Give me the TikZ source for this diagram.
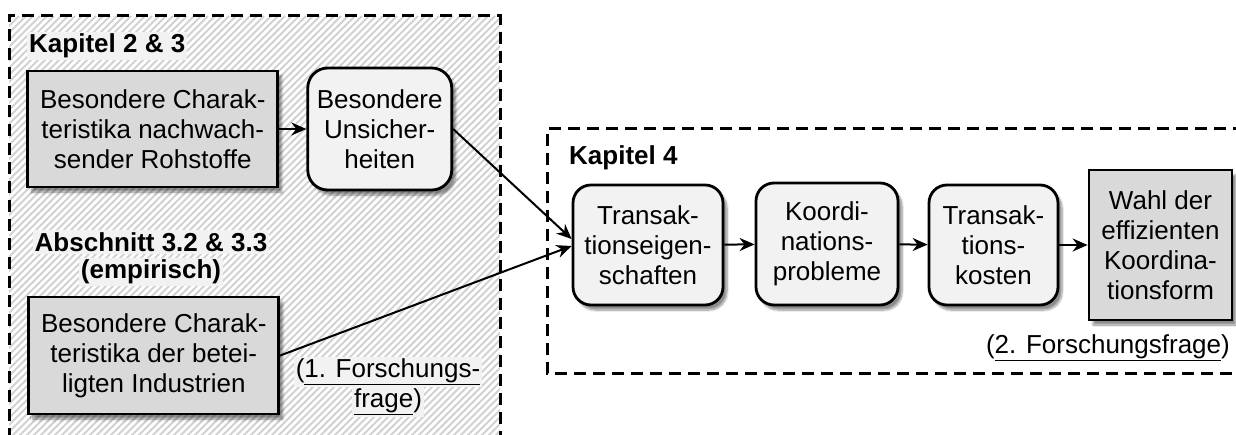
\documentclass[tikz,border=0pt]{standalone}
\usepackage{fontspec}
\setmainfont{Liberation Sans}
\usetikzlibrary{arrows.meta,shadows.blur,calc}
\definecolor{boxdark}{HTML}{D9D9D9}
\definecolor{boxlight}{HTML}{F2F2F2}
\definecolor{titlebg}{HTML}{F2F2F2}
\definecolor{hatchgray}{HTML}{D2D2D2}
\tikzset{
  base/.style={draw, line width=2.8pt, align=center, inner sep=0pt,
    font=\fontsize{26}{30}\selectfont,
    blur shadow={shadow xshift=4pt, shadow yshift=-5pt, shadow blur steps=8, shadow opacity=45}},
  darkbox/.style={base, fill=boxdark},
  lightbox/.style={base, fill=boxlight, rounded corners=20pt},
  heading/.style={fill=titlebg, inner sep=2pt, font=\bfseries\fontsize{26}{30}\selectfont},
  note/.style={inner sep=2pt, font=\fontsize{26}{30}\selectfont},
  frame/.style={dash pattern=on 12pt off 7pt, line width=3pt},
  hatch/.style={hatchgray, line width=1.8pt},
  link/.style={-{Stealth[length=15pt,width=13pt]}, line width=2pt},
}
\begin{document}
\begin{tikzpicture}[x=1pt,y=-1pt]
\useasboundingbox (0,0) rectangle (1236,435);

% hatched background of the left area
\begin{scope}
  \clip (9,16) rectangle (500,440);
  \foreach \i in {-440,-433,...,505} \draw[hatch] (\i,440) -- ++(424,-424);
\end{scope}

% dashed frames
\draw[frame] (9,440) -- (9,16) -- (500,16) -- (500,440);
\draw[frame] (1245,129) -- (547,129) -- (547,373) -- (1245,373);

% left area
\node[heading, anchor=west] (k23) at (27,46) {Kapitel 2 \& 3};
\node[darkbox, minimum width=250pt, minimum height=116pt] (b1) at (152.75,129)
  {Besondere Charak-\\teristika nachwach-\\sender Rohstoffe};
\node[lightbox, minimum width=144pt, minimum height=122pt] (b2) at (379.75,129)
  {Besondere\\Unsicher-\\heiten};
\node[heading] (a32) at (151,242) {Abschnitt 3.2 \& 3.3};
\node[heading] (emp) at (151,272) {(empirisch)};
\node[darkbox, minimum width=250pt, minimum height=117pt] (b3) at (153.8,355.5)
  {Besondere Charak-\\teristika der betei-\\ligten Industrien};
\node[note, fill=titlebg] (f1a) at (388,372) {(\underline{1. Forschungs-}};
\node[note, fill=titlebg] (f1b) at (388,402) {\underline{frage})};

% right area
\node[heading, fill=none, anchor=west] (k4) at (567,158) {Kapitel 4};
\node[lightbox, rounded corners=18pt, minimum width=150pt, minimum height=120pt] (t1) at (648,245)
  {Transak-\\tionseigen-\\schaften};
\node[lightbox, rounded corners=18pt, minimum width=142pt, minimum height=122pt] (t2) at (827,244)
  {Koordi-\\nations-\\probleme};
\node[lightbox, rounded corners=18pt, minimum width=129pt, minimum height=120pt] (t3) at (993.5,245)
  {Transak-\\tions-\\kosten};
\node[darkbox, minimum width=143pt, minimum height=150pt] (t4) at (1160.5,245)
  {Wahl der\\effizienten\\Koordina-\\tionsform};
\node[note, anchor=east] (f2) at (1232,348) {(\underline{2. Forschungsfrage})};

% connectors
\draw[link] (b1.east) -- (b2.west);
\draw[link] (b2.east) -- ($(t1.west)+(0,-6)$);
\draw[link] (b3.east) -- ($(t1.west)+(0,1)$);
\draw[link] (t1) -- (t2);
\draw[link] (t2) -- (t3);
\draw[link] (t3) -- (t4);
\end{tikzpicture}
\end{document}
